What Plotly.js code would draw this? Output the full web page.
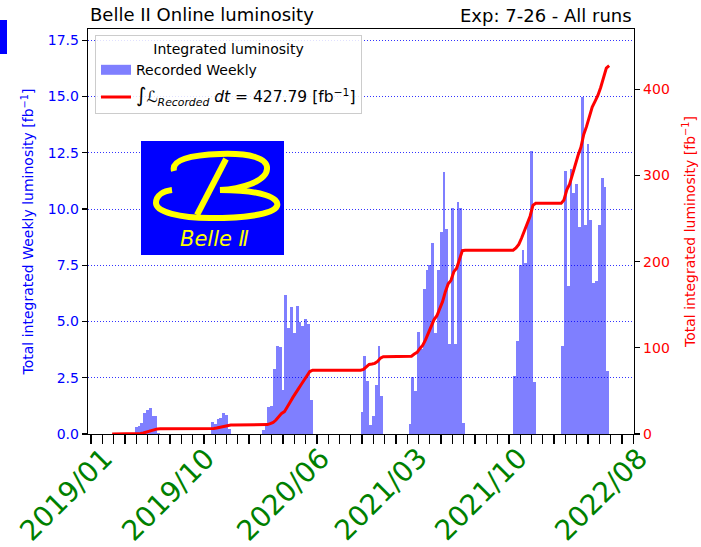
<!DOCTYPE html>
<html>
<head>
<meta charset="utf-8">
<script src="https://cdn.plot.ly/plotly-3.0.1.min.js"></script>
<style>html,body{margin:0;padding:0;background:#fff;}#chart{width:701px;height:547px;}</style>
</head>
<body>
<div id="chart"></div>
<script>
// ---- data (x in weeks, one tick every 4 weeks) ----
const runStartWeek = [16, 43, 61, 96, 113, 150, 167];
const run2019a  = [0.30, 0.35, 0.50, 0.95, 1.05, 1.15, 0.80, 0.80, 0.05];
const run2019c  = [0.55, 0.45, 0.65, 0.72, 0.92, 0.85, 0.24];
const run2020ab = [0.20, 0.35, 1.20, 1.25, 2.90, 3.90, 3.85, 1.95, 6.20, 4.70, 5.65, 4.50, 5.70, 5.00, 4.80, 5.10, 4.90, 1.50];
const run2020c  = [1.00, 3.45, 2.35, 0.40, 0.80, 2.20, 3.90, 1.70];
const run2021ab = [0.45, 2.55, 1.90, 4.55, 3.80, 6.45, 7.30, 7.50, 8.50, 4.50, 7.30, 9.00, 11.65, 9.10, 4.00, 10.05, 4.00, 10.30, 10.05, 0.50];
const run2021c  = [2.60, 4.15, 7.50, 8.20, 7.60, 9.50, 12.60, 2.30];
const run2022ab = [3.90, 11.70, 6.60, 11.80, 10.70, 11.10, 9.20, 15.00, 9.30, 12.90, 9.50, 6.70, 6.80, 9.30, 11.40, 11.00, 2.80];
const runWeekly = [run2019a, run2019c, run2020ab, run2020c, run2021ab, run2021c, run2022ab];
const cumulativeStartWeek = 8;
const xLabelText = ['2019/01', '2019/10', '2020/06', '2021/03', '2021/10', '2022/08'];
const xLabelWeek = [10.9, 47.1, 87.8, 122.2, 157.7, 200.3];
const barLabel = 'Recorded Weekly';
const lineLabel = '<span style="font-size:20px">∫</span><span style="font-size:15.5px"><i>ℒ<sub>Recorded</sub> dt</i> = 427.79 [fb<sup>−1</sup>]</span>';

// ---- build traces ----
const barX = [], barY = [];
const weekMap = {};
runWeekly.forEach((vals, r) => {
  vals.forEach((v, i) => {
    const w = runStartWeek[r] + i;
    barX.push(w); barY.push(v); weekMap[w] = v;
  });
});
const lastWeek = Math.max(...barX);
const cumX = [cumulativeStartWeek - 0.5], cumY = [0];
let acc = 0;
for (let w = cumulativeStartWeek; w <= lastWeek; w++) {
  acc += (weekMap[w] || 0);
  cumX.push(w + 0.5); cumY.push(acc);
}

const XMIN = -1.06, XMAX = 192.3;
const L = 88, R = 67, T = 29, B = 113, W = 701, H = 547;
const PW = W - L - R, PH = H - T - B;
const px = x => (x - L) / PW;
const py = y => (T + PH - y) / PH;
const wk2paper = w => (w - XMIN) / (XMAX - XMIN);
const convPath = s => s.replace(/(-?\d+\.?\d*),(-?\d+\.?\d*)/g, (m, a, b) => px(+a).toFixed(5) + ',' + py(+b).toFixed(5));

const barColor = 'rgba(0,0,255,0.5)';
const traces = [
  {type: 'bar', x: barX, y: barY, width: barX.map(() => 1), name: barLabel, showlegend: false,
   marker: {color: barColor, line: {width: 0}}, yaxis: 'y', hoverinfo: 'skip'},
  // legend swatch for the weekly bars (wide patch like the reference legend)
  {type: 'scatter', mode: 'lines', x: [null], y: [null], name: barLabel, yaxis: 'y',
   line: {color: barColor, width: 12}, legendgroup: 'a', hoverinfo: 'skip'},
  {type: 'scatter', mode: 'lines', x: cumX, y: cumY, name: lineLabel, yaxis: 'y2', legendgroup: 'b',
   line: {color: 'red', width: 3}, hoverinfo: 'skip'}
];

const annotations = xLabelText.map((t, i) => ({
  text: t, xref: 'paper', yref: 'paper', x: wk2paper(xLabelWeek[i]), y: py(439),
  xanchor: 'right', yanchor: 'top', textangle: -45, showarrow: false,
  font: {size: 28, color: 'green', family: 'DejaVu Sans'}
}));
annotations.push({text: 'Exp: 7-26 - All runs', xref: 'paper', yref: 'paper', x: 1, y: py(15),
  xanchor: 'right', yanchor: 'middle', showarrow: false, font: {size: 18, color: 'black'}});
annotations.push({text: '<i>Belle Ⅱ</i>', xref: 'paper', yref: 'paper', x: px(214), y: py(239),
  xanchor: 'center', yanchor: 'middle', showarrow: false, font: {size: 21, color: 'yellow'}});

const shapes = [
  {type: 'rect', xref: 'paper', yref: 'paper', x0: px(0), x1: px(7), y0: py(20), y1: py(54),
   fillcolor: 'blue', line: {width: 0}},
  {type: 'rect', xref: 'paper', yref: 'paper', x0: px(141), x1: px(284), y0: py(141), y1: py(255),
   fillcolor: 'blue', line: {width: 0}, layer: 'above'},
  {type: 'path', xref: 'paper', yref: 'paper', layer: 'above', line: {color: 'yellow', width: 6},
   path: convPath('M174,171 C171,160 190,155 220,154 C250,153 268,158 267,169 C266,182 240,189 220,190 C262,190 280,198 277,206 C273,215 240,218 210,218 C180,218 156,212 156,203 C156,195 164,191 172,190')},
  {type: 'path', xref: 'paper', yref: 'paper', layer: 'above', line: {color: 'yellow', width: 6},
   path: convPath('M226,159 L197,215')}
];

const layout = {
  width: W, height: H,
  margin: {l: L, r: R, t: T, b: B, pad: 0},
  paper_bgcolor: 'white', plot_bgcolor: 'white',
  font: {family: 'DejaVu Sans', size: 14, color: 'black'},
  title: {text: 'Belle II Online luminosity', xref: 'container', x: 90 / W, xanchor: 'left',
          yref: 'container', y: 1 - 15 / H, yanchor: 'middle', font: {size: 18, color: 'black'}},
  bargap: 0,
  showlegend: true,
  legend: {x: px(95), y: py(35), xanchor: 'left', yanchor: 'top', bgcolor: 'rgba(255,255,255,0.85)',
           bordercolor: '#cccccc', borderwidth: 1, font: {size: 14}, tracegroupgap: 6,
           traceorder: 'grouped',
           title: {text: 'Integrated luminosity', side: 'top center', font: {size: 14}}},
  xaxis: {range: [XMIN, XMAX], tickmode: 'linear', tick0: 0, dtick: 4, ticks: 'outside', ticklen: 9,
          tickwidth: 1.3, tickcolor: 'black', showticklabels: false, showgrid: false, zeroline: false,
          showline: true, linecolor: 'black', linewidth: 1.3, mirror: true},
  yaxis: {range: [0, 18], tickmode: 'linear', tick0: 0, dtick: 2.5, tickformat: '.1f', ticks: 'outside',
          ticklen: 5, tickwidth: 1.3, tickcolor: 'black', tickfont: {color: 'blue', size: 14},
          showgrid: true, gridcolor: 'rgba(0,0,255,0.8)', griddash: '1px,2px', gridwidth: 1,
          zeroline: false, showline: true, linecolor: 'black', linewidth: 1.3,
          title: {text: 'Total integrated Weekly luminosity [fb<sup>−1</sup>]', font: {color: 'blue', size: 14}, standoff: 10}},
  yaxis2: {overlaying: 'y', side: 'right', range: [0, 470], tickmode: 'linear', tick0: 0, dtick: 100,
           ticks: 'outside', ticklen: 5, tickwidth: 1.3, tickcolor: 'black', tickfont: {color: 'red', size: 14},
           showgrid: false, zeroline: false, showline: true, linecolor: 'black', linewidth: 1.3,
           title: {text: 'Total integrated luminosity [fb<sup>−1</sup>]', font: {color: 'red', size: 14}, standoff: 16}},
  annotations: annotations,
  shapes: shapes
};

Plotly.newPlot('chart', traces, layout, {staticPlot: true, displayModeBar: false});
</script>
</body>
</html>
